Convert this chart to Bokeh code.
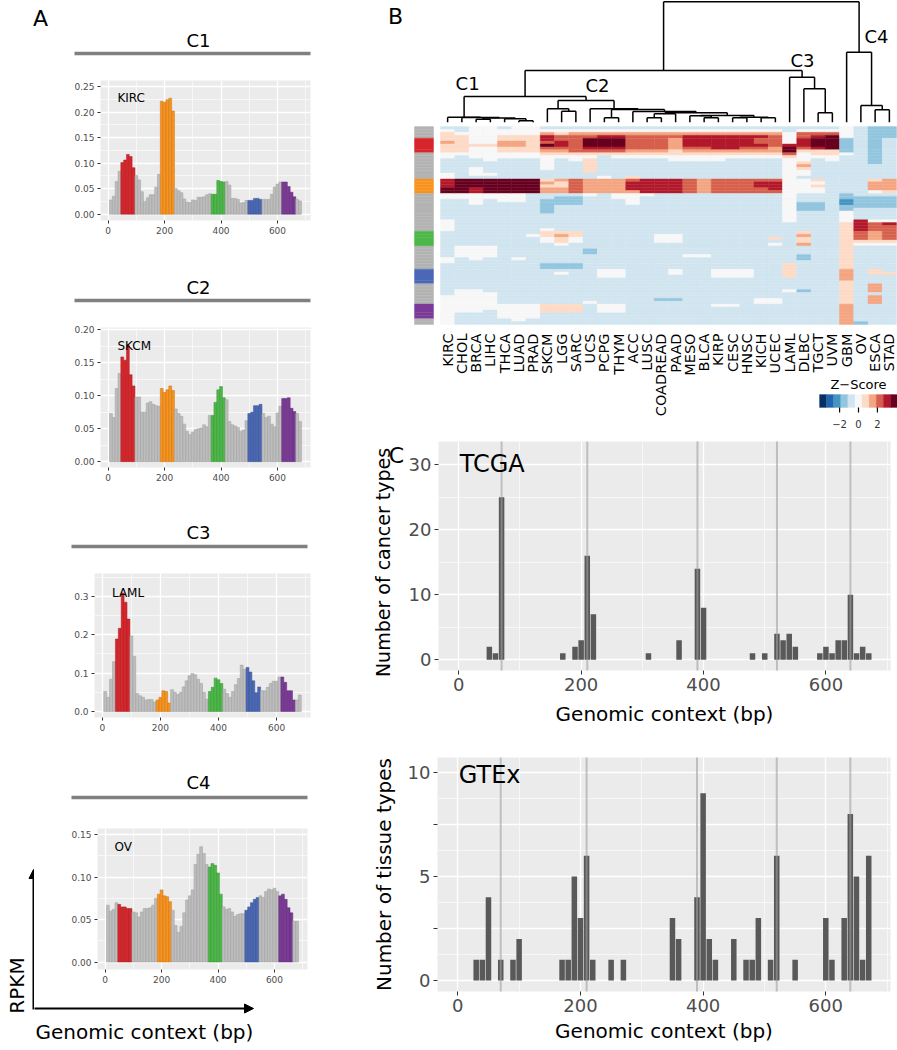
import math
from bokeh.plotting import figure
from bokeh.layouts import row, column
from bokeh.models import (Range1d, FixedTicker, Arrow, NormalHead,
                          ColumnDataSource, NumeralTickFormatter)
from bokeh.transform import linear_cmap
from bokeh.core.properties import value
from bokeh.embed import file_html
from bokeh.resources import INLINE

FONT = "DejaVu Sans"

# ---------------- data: panel A ----------------
bins = list(range(10, 690, 10))
region_names = ["red", "orange", "green", "blue", "purple"]
region_start = [50, 190, 370, 500, 620]
region_end = [90, 230, 410, 540, 660]
region_fill = {"red": "#D7262B", "orange": "#F7931E", "green": "#4CB848",
               "blue": "#4A68B5", "purple": "#7B3A96", "grey": "#BDBDBD"}
region_edge = {"red": "#A81E22", "orange": "#C87516", "green": "#3A9237",
               "blue": "#38518F", "purple": "#5E2C74", "grey": "#9E9E9E"}

cluster_titles = ["C1", "C2", "C3", "C4"]
rep_types = ["KIRC", "SKCM", "LAML", "OV"]

rpkm_c1 = [.028, .035, .064, .084, .101, .106, .117, .113, .091, .076,
           .067, .044, .025, .032, .038, .038, .053, .078, .221, .219,
           .224, .227, .202, .050, .046, .042, .030, .024, .023, .028,
           .027, .033, .033, .034, .038, .040, .039, .039, .066, .064,
           .063, .064, .057, .031, .031, .029, .022, .023, .027, .027,
           .027, .031, .031, .029, .029, .029, .029, .039, .053, .059,
           .063, .063, .063, .054, .043, .034, .029, .026]
rpkm_c2 = [.073, .067, .111, .134, .159, .154, .176, .132, .115, .098,
           .098, .075, .075, .089, .091, .087, .085, .084, .111, .105,
           .109, .115, .108, .080, .073, .069, .057, .046, .041, .045,
           .049, .050, .051, .056, .053, .070, .070, .090, .109, .114,
           .097, .094, .061, .056, .054, .052, .046, .048, .062, .073,
           .075, .085, .085, .087, .073, .067, .069, .057, .053, .074,
           .084, .096, .096, .097, .081, .076, .073, .061]
rpkm_c3 = [.052, .037, .084, .130, .189, .217, .309, .285, .241, .197,
           .144, .047, .041, .037, .030, .031, .031, .025, .030, .037,
           .054, .052, .022, .057, .050, .044, .050, .064, .080, .093,
           .099, .096, .084, .073, .050, .032, .052, .063, .087, .083,
           .073, .058, .047, .037, .052, .070, .086, .121, .110, .115,
           .103, .080, .049, .064, .054, .054, .063, .073, .079, .079,
           .090, .090, .076, .054, .054, .030, .030, .043]
rpkm_c4 = [.067, .060, .062, .070, .068, .065, .065, .063, .063, .059,
           .058, .053, .059, .063, .063, .064, .067, .075, .080, .085,
           .078, .077, .071, .061, .043, .035, .042, .058, .073, .078,
           .085, .115, .127, .136, .128, .115, .112, .116, .114, .105,
           .080, .065, .062, .063, .059, .054, .056, .057, .057, .061,
           .065, .070, .074, .076, .078, .076, .083, .086, .085, .087,
           .083, .078, .080, .074, .064, .058, .048, .048]

# ---------------- data: panel B ----------------
cancer_types = ["KIRC", "CHOL", "BRCA", "LIHC", "THCA", "LUAD", "PRAD", "SKCM",
                "LGG", "SARC", "UCS", "PCPG", "THYM", "ACC", "LUSC", "COADREAD",
                "PAAD", "MESO", "BLCA", "KIRP", "CESC", "HNSC", "KICH", "UCEC",
                "LAML", "DLBC", "TGCT", "UVM", "GBM", "OV", "ESCA", "STAD"]
# z-score level per 10-bp bin (rows top->bottom); z = (digit - 4) * 0.75
zscore_levels = [
    "3455" "56555" "443333344" "88899" "4433333334444" "33333" "33334433" "33333" "3333444" "44444" "44",
    "3345" "55555" "433333333" "99999" "4433333333333" "33333" "44443333" "33333" "3344444" "44433" "33",
    "4444" "44544" "443334443" "99988" "4444333333333" "33333" "44444333" "33333" "3344444" "44433" "33",
    "4444" "44544" "444333343" "99999" "4433333333333" "33333" "44443333" "33333" "3334444" "44333" "33",
    "3445" "56655" "443333333" "99999" "4443333333333" "33333" "33333333" "33333" "3333333" "44444" "33",
    "4445" "56655" "443333333" "99999" "4443333333333" "33333" "33334333" "33333" "3333333" "44444" "43",
    "4445" "55555" "443333333" "99999" "3333333333333" "34333" "33333333" "33333" "3333333" "44444" "33",
    "3468" "87976" "544444333" "56566" "3322222333334" "55443" "33333322" "33333" "3333333" "55533" "33",
    "3457" "78876" "543333333" "65566" "3222333333333" "56554" "33333322" "34333" "3333333" "55533" "33",
    "3467" "77777" "544333333" "77777" "3222333333333" "55443" "33333322" "33333" "3333333" "55533" "33",
    "3467" "99987" "545555533" "66666" "4333333333333" "33333" "32233333" "33333" "3333334" "33333" "33",
    "3468" "99987" "533333334" "66666" "3333333333333" "33333" "33333333" "44433" "3333333" "44433" "33",
    "3468" "99987" "543333333" "66666" "4433333333333" "33333" "33333333" "44433" "3333333" "44433" "33",
    "3467" "77776" "543333335" "78886" "4444333333333" "33333" "33333333" "33333" "3333333" "33333" "33",
    "3467" "77776" "543333333" "88888" "4333333333333" "33333" "33333333" "33333" "3333333" "33333" "33",
    "3467" "77776" "543333333" "88888" "3333333333333" "34443" "33333333" "33333" "3333323" "33333" "33",
    "3467" "66665" "544333333" "88888" "3333333333333" "34443" "33333333" "44333" "3333323" "33333" "33",
    "3468" "88876" "544333333" "77777" "3333333333333" "33333" "33343333" "33333" "3333333" "33333" "33",
    "3468" "88876" "544333333" "66666" "3333333333333" "33333" "33343333" "33333" "3333333" "33333" "33",
    "3468" "88886" "544333333" "77777" "3333333333333" "33333" "33333333" "44433" "3333333" "43333" "33",
    "3468" "88886" "543333333" "77777" "3333333333333" "33333" "33333333" "44433" "3333333" "43333" "33",
    "3468" "88876" "543333333" "77777" "3333333333333" "33333" "33333333" "44433" "3333333" "33333" "33",
    "3468" "77876" "543333333" "78877" "3333333333333" "33333" "33333333" "33333" "3333344" "33333" "33",
    "3467" "77766" "543333333" "78887" "3333333333333" "33534" "33333333" "33333" "3333344" "33333" "33",
    "3344" "44899" "754444444" "44444" "4444444444333" "33333" "33333355" "55533" "3343333" "33333" "33",
    "3477" "88875" "444565443" "44444" "3332223333333" "56556" "33322333" "33333" "3323333" "33333" "33",
    "3478" "99985" "543333333" "54544" "3332223333333" "33333" "33333333" "33333" "3333333" "33333" "33",
    "3479" "99995" "544333333" "33333" "3333333333333" "33333" "33333333" "33333" "3333333" "33333" "33",
    "4444" "22222" "433333333" "33333" "2211224444555" "55555" "55555555" "66665" "5555555" "66666" "66",
    "3333" "33333" "333333333" "33333" "3222233338888" "77754" "33333333" "33333" "3333333" "33333" "32",
    "2222" "22222" "222233333" "56664" "3222233334777" "66654" "33333333" "55333" "6663666" "33333" "33",
    "2222" "33333" "333333333" "66665" "3222233334877" "77754" "33333333" "35333" "3333333" "33333" "33",
]
# dendrogram: (height, left, right); heights in tree-distance units
dendro_tree = (120.5,
    (51.7,
        (25.7,
            (5.0, "KIRC", (4.6, "CHOL", (4.2, (3.0, "BRCA", "LIHC"), (3.5, "THCA", (1.5, "LUAD", "PRAD"))))),
            (21.7,
                (13.4, "SKCM", (11.0, "LGG", "SARC")),
                (13.4, "UCS",
                    (12.7, (4.4, "PCPG", "THYM"),
                        (10.7, "ACC",
                            (9.4,
                                (8.4, (4.4, "LUSC", "COADREAD"), "PAAD"),
                                (6.7, (6.4, "MESO", (4.4, "BLCA", "KIRP")),
                                      (5.0, (4.4, "CESC", "HNSC"), (4.4, "KICH", "UCEC"))))))))),
        (45.0, "LAML", (33.4, "DLBC", (9.4, "TGCT", "UVM")))),
    (70.0, "GBM", (16.7, "OV", (12.4, "ESCA", "STAD"))))
cluster_label_text = ["C1", "C2", "C3", "C4"]
cluster_label_col = [1.9, 11.02, 25.4, 30.6]
cluster_label_h = [38.7, 36.7, 61.7, 85.7]

RDBU = ["#053061", "#2166ac", "#4393c3", "#92c5de", "#d1e5f0", "#f7f7f7",
        "#fddbc7", "#f4a582", "#d6604d", "#b2182b", "#67001f"]
Z_LOW, Z_HIGH = -4.125, 4.125
legend_ticks = [-2, 0, 2]

# ---------------- data: panel C ----------------
tcga_pos = [50, 60, 70, 170, 190, 200, 210, 220, 310, 360, 390, 400, 480, 500,
            520, 530, 540, 550, 590, 600, 610, 620, 630, 640, 650, 660, 670]
tcga_count = [2, 1, 25, 1, 2, 3, 16, 7, 1, 3, 14, 8, 1, 1,
              4, 3, 4, 2, 1, 2, 1, 3, 3, 10, 1, 2, 1]
gtex_pos = [30, 40, 50, 70, 90, 100, 170, 180, 190, 200, 210, 220, 250, 270,
            350, 360, 390, 400, 410, 420, 450, 470, 480, 490, 510, 520, 550,
            600, 610, 630, 640, 650, 660, 670]
gtex_count = [1, 1, 4, 1, 1, 2, 1, 1, 5, 3, 6, 1, 1, 1,
              3, 2, 4, 9, 2, 1, 2, 1, 1, 3, 1, 6, 1,
              3, 1, 3, 8, 5, 1, 6]
ref_positions = [70, 210, 390, 520, 640]


def region_of(b):
    for n, s, e in zip(region_names, region_start, region_end):
        if s <= b <= e:
            return n
    return "grey"


def base_fig(w, h, xr, yr, borders):
    bl, br, bt, bb = borders
    return figure(width=w, height=h, x_range=xr, y_range=yr, output_backend="svg",
                  toolbar_location=None, min_border_left=bl, min_border_right=br,
                  min_border_top=bt, min_border_bottom=bb, frame_align=False)


def deco_fig(x0, x1, y0, y1):
    """Blank canvas whose data units are page pixels (y grows downward)."""
    p = figure(width=x1 - x0, height=y1 - y0, x_range=Range1d(x0, x1), y_range=Range1d(y1, y0),
               output_backend="svg", toolbar_location=None, min_border=0,
               x_axis_location=None, y_axis_location=None, frame_align=False)
    p.grid.visible = False
    p.outline_line_color = None
    p.background_fill_color = "white"
    p.border_fill_color = "white"
    return p


def txt(p, x, y, s, size, align="center", angle=0.0, color="black", **kw):
    p.text(x=[x], y=[y], text=[s], angle=angle, text_font=value(FONT), text_font_size=size,
           text_align=align, text_baseline="middle", text_color=color, **kw)


def style(p, fs, tick_out, standoff):
    p.background_fill_color = "#EBEBEB"
    p.border_fill_color = "white"
    p.outline_line_color = None
    p.grid.grid_line_color = "white"
    p.grid.grid_line_width = 1.3
    p.grid.minor_grid_line_color = "white"
    p.grid.minor_grid_line_width = 0.6
    for ax in p.axis:
        ax.axis_line_color = None
        ax.major_tick_line_color = "#333333"
        ax.major_tick_out = tick_out
        ax.major_tick_in = 0
        ax.minor_tick_line_color = None
        ax.major_label_text_font = FONT
        ax.major_label_text_font_size = f"{fs}px"
        ax.major_label_text_color = "#4D4D4D"
        ax.major_label_standoff = standoff


def header(y0, y1, title, ty, line_y, lx0, lx1, letter=None):
    p = deco_fig(0, 320, y0, y1)
    txt(p, 198, ty, title, "18px")
    p.segment(x0=[lx0], y0=[line_y], x1=[lx1], y1=[line_y], line_color="#808080", line_width=3.5)
    if letter:
        txt(p, 40, 18, letter, "22px")
    return p


def panel_a(vals, rep, rep_y, w, h, borders, yr, yticks, yminor, yfmt):
    p = base_fig(w, h, Range1d(-27, 717), Range1d(*yr), borders)
    style(p, 9, 3, 2)
    reg = [region_of(b) for b in bins]
    src = ColumnDataSource(dict(x=bins, top=vals,
                                fill=[region_fill[r] for r in reg],
                                edge=[region_edge[r] for r in reg]))
    p.vbar(x="x", top="top", bottom=0, width=10, fill_color="fill",
           line_color="edge", line_width=0.5, source=src)
    txt(p, 33, rep_y, rep, "12px", align="left")
    p.xaxis.ticker = FixedTicker(ticks=[0, 200, 400, 600], minor_ticks=[100, 300, 500, 700])
    p.yaxis.ticker = FixedTicker(ticks=yticks, minor_ticks=yminor)
    p.yaxis.formatter = NumeralTickFormatter(format=yfmt)
    return p


h1 = header(0, 75, cluster_titles[0], 40, 53, 74, 310, letter="A")
a1 = panel_a(rpkm_c1, rep_types[0], 0.2265, 320, 175, (100, 10, 5, 30),
             (-0.0123, 0.2617), [0, .05, .10, .15, .20, .25], [.025, .075, .125, .175, .225], "0.00")
h2 = header(250, 318, cluster_titles[1], 287, 300, 74, 310)
a2 = panel_a(rpkm_c2, rep_types[1], 0.176, 320, 166, (100, 10, 9, 17),
             (-0.0088, 0.2036), [0, .05, .10, .15, .20], [.025, .075, .125, .175], "0.00")
h3 = header(484, 565, cluster_titles[2], 532, 546, 71, 307)
a3 = panel_a(rpkm_c3, rep_types[2], 0.31, 320, 169, (94, 10, 8, 17),
             (-0.0157, 0.36), [0, .1, .2, .3], [.05, .15, .25, .35], "0.0")
h4 = header(734, 820, cluster_titles[3], 782, 797, 71, 307)
a4 = panel_a(rpkm_c4, rep_types[3], 0.136, 286, 170, (63, 13, 8, 21),
             (-0.0088, 0.1574), [0, .05, .10, .15], [.025, .075, .125], "0.00")

# lower-left axis sketch (RPKM vs genomic context)
strip = deco_fig(0, 34, 820, 1050)
txt(strip, 16, 985, "RPKM", "20px", angle=math.pi / 2)
strip.add_layout(Arrow(x_start=33, y_start=1009, x_end=33, y_end=869, line_width=2,
                       line_color="black",
                       end=NormalHead(size=9, fill_color="black", line_color="black")))
bottom = deco_fig(34, 320, 990, 1050)
bottom.add_layout(Arrow(x_start=33, y_start=1008, x_end=253, y_end=1008, line_width=2,
                        line_color="black",
                        end=NormalHead(size=9, fill_color="black", line_color="black")))
txt(bottom, 35, 1031, "Genomic context (bp)", "20px", align="left")

left_col = column(h1, a1, h2, a2, h3, a3, h4, row(strip, column(a4, bottom)))

# ---------------- panel B ----------------
COLW = 456 / 32.0
ROWH = 198 / 68.0
pb = figure(width=577, height=440, x_range=Range1d(-120 / COLW, 457 / COLW),
            y_range=Range1d((440 - 126) / ROWH, (0 - 126) / ROWH),
            output_backend="svg", toolbar_location=None, min_border=0,
            x_axis_location=None, y_axis_location=None, frame_align=False)
pb.extra_y_ranges = {"dendro": Range1d(121.7 - 440, 121.7)}
pb.grid.visible = False
pb.outline_line_color = None
pb.background_fill_color = "white"

leaf_x = {name: i + 0.5 for i, name in enumerate(cancer_types)}
seg = dict(x0=[], y0=[], x1=[], y1=[])


def walk(node):
    if isinstance(node, str):
        return leaf_x[node], 0.0
    h, l, r = node
    lx, lh = walk(l)
    rx, rh = walk(r)
    for a in ((lx, h, rx, h), (lx, lh, lx, h), (rx, rh, rx, h)):
        seg["x0"].append(a[0]); seg["y0"].append(a[1]); seg["x1"].append(a[2]); seg["y1"].append(a[3])
    return (lx + rx) / 2, h


walk(dendro_tree)
pb.segment(x0="x0", y0="y0", x1="x1", y1="y1", source=ColumnDataSource(seg),
           line_color="black", line_width=1.5, y_range_name="dendro")
pb.text(x=cluster_label_col, y=cluster_label_h, text=cluster_label_text, y_range_name="dendro",
        text_font=value(FONT), text_font_size="18px", text_align="center",
        text_baseline="middle", text_color="black")

hx, hy, hz = [], [], []
for i, col in enumerate(zscore_levels):
    for r, ch in enumerate(col):
        hx.append(i + 0.5)
        hy.append(r + 0.5)
        hz.append((int(ch) - 4) * 0.75)
cmap = linear_cmap("z", RDBU, low=Z_LOW, high=Z_HIGH)
pb.rect(x="x", y="y", width=1, height=1, fill_color=cmap, line_color=cmap, line_width=0.4,
        source=ColumnDataSource(dict(x=hx, y=hy, z=hz)))

strip_col = [region_fill[region_of(b)] if region_of(b) != "grey" else "#B3B3B3" for b in bins]
pb.rect(x=[(-26 / COLW + -7 / COLW) / 2] * len(bins), y=[r + 0.5 for r in range(len(bins))],
        width=19 / COLW, height=1, fill_color=strip_col, line_color=strip_col, line_width=0.4)

pb.text(x=[i + 0.5 for i in range(len(cancer_types))], y=[(333 - 126) / ROWH] * len(cancer_types),
        text=cancer_types, angle=math.pi / 2, text_font=value(FONT), text_font_size="14.5px",
        text_align="right", text_baseline="middle", text_color="black")

# colour key
LEG_X0 = (819 - 440) / COLW
LEG_K = (78 / 11 / COLW) / 0.75
leg_z = [Z_LOW + 0.375 + 0.75 * k for k in range(len(RDBU))]
pb.rect(x=[LEG_X0 + (z - Z_LOW) * LEG_K for z in leg_z], y=[(400.5 - 126) / ROWH] * len(leg_z),
        width=0.75 * LEG_K, height=13 / ROWH, fill_color=RDBU, line_color=RDBU, line_width=0.3)
pb.segment(x0=[LEG_X0 + (t - Z_LOW) * LEG_K for t in legend_ticks], y0=[(407 - 126) / ROWH] * 3,
           x1=[LEG_X0 + (t - Z_LOW) * LEG_K for t in legend_ticks], y1=[(412 - 126) / ROWH] * 3,
           line_color="black", line_width=1.2)
pb.text(x=[LEG_X0 + (t - Z_LOW) * LEG_K for t in legend_ticks], y=[(423 - 126) / ROWH] * 3,
        text=[("\u2212" if t < 0 else "") + str(abs(t)) for t in legend_ticks],
        text_font=value(FONT), text_font_size="10px", text_align="center",
        text_baseline="middle", text_color="#333333")
txt(pb, LEG_X0 + 5.5 * 0.75 * LEG_K, (384 - 126) / ROWH, "Z\u2212Score", "13px")
txt(pb, (395 - 440) / COLW, (16 - 126) / ROWH, "B", "22px")


# ---------------- panel C ----------------
def panel_c(xs, hs, w, h, borders, yr, yticks, yminor, overrides, ylab, tag, tag_y,
            xstand, ystand):
    p = base_fig(w, h, Range1d(-33.1, 705.5), Range1d(*yr), borders)
    style(p, 18, 4, 3)
    p.vbar(x=xs, top=hs, bottom=0, width=9, fill_color="#595959", line_color=None)
    p.segment(x0=ref_positions, y0=[yr[0] - 50] * len(ref_positions),
              x1=ref_positions, y1=[yr[1] + 50] * len(ref_positions),
              line_color="#A0A0A0", line_width=2, line_alpha=0.6)
    p.xaxis.ticker = FixedTicker(ticks=[0, 200, 400, 600], minor_ticks=[100, 300, 500, 700])
    p.yaxis.ticker = FixedTicker(ticks=yticks, minor_ticks=yminor)
    if overrides:
        p.yaxis.major_label_overrides = overrides
    labs = [(p.xaxis, "Genomic context (bp)")]
    if ylab:
        labs.append((p.yaxis, ylab))
    for ax, lab in labs:
        ax.axis_label = lab
        ax.axis_label_text_font = FONT
        ax.axis_label_text_font_size = "20px"
        ax.axis_label_text_font_style = "normal"
        ax.axis_label_text_color = "black"
    p.xaxis.axis_label_standoff = xstand
    p.yaxis.axis_label_standoff = ystand
    txt(p, 1.6, tag_y, tag, "24px", align="left")
    return p


tstrip = deco_fig(320, 405, 440, 745)
txt(tstrip, 396, 455, "C", "22px")
txt(tstrip, 382, 562, "Number of cancer types", "19px", angle=math.pi / 2)
pc1 = panel_c(tcga_pos, tcga_count, 492, 305, (32, 7, 1, 75), (-1.65, 33.58), [0, 10, 20, 30],
              [5, 15, 25], None, None, "TCGA", 30.05, 8, 3)
pc2 = panel_c(gtex_pos, gtex_count, 577, 305, (117, 7, 12, 59), (-0.529, 10.72),
              [0, 2.5, 5, 7.5, 10], [1.25, 3.75, 6.25, 8.75], {2.5: "", 7.5: ""},
              "Number of tissue types", "GTEx", 9.86, 4, 9)

right_col = column(pb, row(tstrip, pc1), pc2)
layout = row(left_col, right_col)
open("out.html", "w").write(file_html(layout, INLINE))
